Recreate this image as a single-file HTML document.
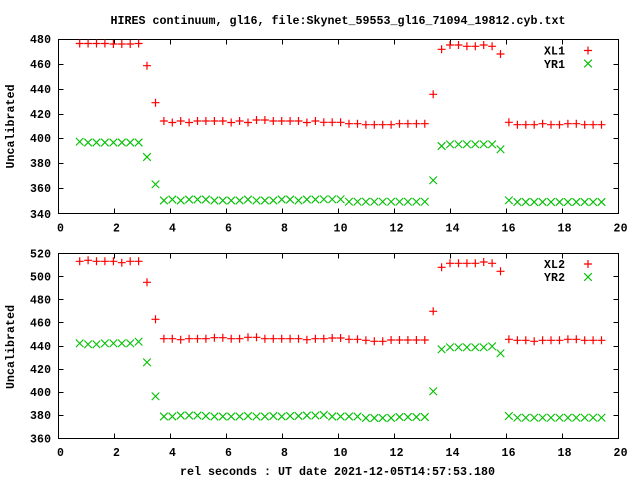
<!DOCTYPE html>
<html><head><meta charset="utf-8"><style>
html,body{margin:0;padding:0;background:#fff;}
svg{display:block;}
text{font-family:"Liberation Mono","DejaVu Sans Mono",monospace;font-weight:bold;font-size:11.5px;fill:#000;}
</style></head><body>
<svg width="640" height="480" viewBox="0 0 640 480" xmlns="http://www.w3.org/2000/svg">
<defs>
<path id="p" d="M-4,0h8M0,-4v8" stroke="#ff0000" stroke-width="1.2" fill="none"/>
<path id="x" d="M-3.8,-3.8L3.8,3.8M-3.8,3.8L3.8,-3.8" stroke="#00c000" stroke-width="1.1" fill="none"/>
</defs>
<rect width="640" height="480" fill="#fff"/>
<text x="338" y="24" text-anchor="middle" textLength="455" lengthAdjust="spacingAndGlyphs">HIRES continuum, gl16, file:Skynet_59553_gl16_71094_19812.cyb.txt</text>

<!-- Plot 1 frame -->
<g stroke="#000" stroke-width="1" fill="none" shape-rendering="crispEdges">
<rect x="58.5" y="39.5" width="560" height="174"/>
<path d="M114.5,213.5v-5M170.5,213.5v-5M226.5,213.5v-5M282.5,213.5v-5M338.5,213.5v-5M394.5,213.5v-5M450.5,213.5v-5M506.5,213.5v-5M562.5,213.5v-5
M114.5,39.5v5M170.5,39.5v5M226.5,39.5v5M282.5,39.5v5M338.5,39.5v5M394.5,39.5v5M450.5,39.5v5M506.5,39.5v5M562.5,39.5v5
M58.5,64.5h5M58.5,89.5h5M58.5,114.5h5M58.5,138.5h5M58.5,163.5h5M58.5,188.5h5
M618.5,64.5h-5M618.5,89.5h-5M618.5,114.5h-5M618.5,138.5h-5M618.5,163.5h-5M618.5,188.5h-5"/>
<rect x="58.5" y="253.5" width="560" height="185"/>
<path d="M114.5,438.5v-5M170.5,438.5v-5M226.5,438.5v-5M282.5,438.5v-5M338.5,438.5v-5M394.5,438.5v-5M450.5,438.5v-5M506.5,438.5v-5M562.5,438.5v-5
M114.5,253.5v5M170.5,253.5v5M226.5,253.5v5M282.5,253.5v5M338.5,253.5v5M394.5,253.5v5M450.5,253.5v5M506.5,253.5v5M562.5,253.5v5
M58.5,276.5h5M58.5,299.5h5M58.5,322.5h5M58.5,346.5h5M58.5,369.5h5M58.5,392.5h5M58.5,415.5h5
M618.5,276.5h-5M618.5,299.5h-5M618.5,322.5h-5M618.5,346.5h-5M618.5,369.5h-5M618.5,392.5h-5M618.5,415.5h-5"/>
</g>

<!-- Plot 1 y labels -->
<g text-anchor="end">
<text x="51" y="43" textLength="21">480</text>
<text x="51" y="68" textLength="21">460</text>
<text x="51" y="93" textLength="21">440</text>
<text x="51" y="118" textLength="21">420</text>
<text x="51" y="142" textLength="21">400</text>
<text x="51" y="167" textLength="21">380</text>
<text x="51" y="192" textLength="21">360</text>
<text x="51" y="218" textLength="21">340</text>
</g>
<!-- Plot 1 x labels -->
<g text-anchor="middle">
<text x="60.5" y="231.5">0</text>
<text x="116.5" y="231.5">2</text>
<text x="172.5" y="231.5">4</text>
<text x="228.5" y="231.5">6</text>
<text x="284.5" y="231.5">8</text>
<text x="340.5" y="231.5" textLength="14">10</text>
<text x="396.5" y="231.5" textLength="14">12</text>
<text x="452.5" y="231.5" textLength="14">14</text>
<text x="508.5" y="231.5" textLength="14">16</text>
<text x="564.5" y="231.5" textLength="14">18</text>
<text x="620.5" y="231.5" textLength="14">20</text>
</g>
<text transform="translate(14,126.5) rotate(-90)" text-anchor="middle" textLength="84">Uncalibrated</text>

<!-- Plot 2 y labels -->
<g text-anchor="end">
<text x="51" y="257.5" textLength="21">520</text>
<text x="51" y="280.5" textLength="21">500</text>
<text x="51" y="303.5" textLength="21">480</text>
<text x="51" y="326.5" textLength="21">460</text>
<text x="51" y="350" textLength="21">440</text>
<text x="51" y="373" textLength="21">420</text>
<text x="51" y="396" textLength="21">400</text>
<text x="51" y="419" textLength="21">380</text>
<text x="51" y="442.5" textLength="21">360</text>
</g>
<g text-anchor="middle">
<text x="60.5" y="456">0</text>
<text x="116.5" y="456">2</text>
<text x="172.5" y="456">4</text>
<text x="228.5" y="456">6</text>
<text x="284.5" y="456">8</text>
<text x="340.5" y="456" textLength="14">10</text>
<text x="396.5" y="456" textLength="14">12</text>
<text x="452.5" y="456" textLength="14">14</text>
<text x="508.5" y="456" textLength="14">16</text>
<text x="564.5" y="456" textLength="14">18</text>
<text x="620.5" y="456" textLength="14">20</text>
</g>
<text transform="translate(14,347) rotate(-90)" text-anchor="middle" textLength="84">Uncalibrated</text>
<text x="337.5" y="475" text-anchor="middle" textLength="315" lengthAdjust="spacingAndGlyphs">rel seconds : UT date 2021-12-05T14:57:53.180</text>

<!-- Legends -->
<text x="565" y="54.5" text-anchor="end" textLength="21">XL1</text>
<text x="565" y="68" text-anchor="end" textLength="21">YR1</text>
<use href="#p" x="588" y="50.5"/>
<use href="#x" x="588" y="63.5"/>
<text x="565" y="268" text-anchor="end" textLength="21">XL2</text>
<text x="565" y="281" text-anchor="end" textLength="21">YR2</text>
<use href="#p" x="588" y="264"/>
<use href="#x" x="588" y="277"/>

<!-- XL1 -->
<g>
<use href="#p" x="79.7" y="43.5"/><use href="#p" x="88.1" y="43.5"/><use href="#p" x="96.5" y="43.5"/><use href="#p" x="104.9" y="43.5"/>
<use href="#p" x="113.4" y="44"/><use href="#p" x="121.8" y="44"/><use href="#p" x="130.2" y="44"/><use href="#p" x="138.6" y="43.5"/>
<use href="#p" x="147.0" y="65.7"/><use href="#p" x="155.5" y="102.7"/>
<use href="#p" x="163.9" y="121"/><use href="#p" x="172.3" y="122.5"/><use href="#p" x="180.7" y="121"/><use href="#p" x="189.1" y="122.5"/>
<use href="#p" x="197.5" y="121"/><use href="#p" x="205.9" y="121"/><use href="#p" x="214.4" y="121"/><use href="#p" x="222.8" y="121"/>
<use href="#p" x="231.2" y="122.5"/><use href="#p" x="239.6" y="121"/><use href="#p" x="248.0" y="122.5"/><use href="#p" x="256.5" y="120"/>
<use href="#p" x="264.9" y="120"/><use href="#p" x="273.3" y="121"/><use href="#p" x="281.7" y="121"/><use href="#p" x="290.1" y="121"/>
<use href="#p" x="298.5" y="121"/><use href="#p" x="306.9" y="122.5"/><use href="#p" x="315.4" y="121"/>
<use href="#p" x="323.8" y="122.3"/><use href="#p" x="332.2" y="122.3"/><use href="#p" x="340.6" y="122.3"/>
<use href="#p" x="349.0" y="123.7"/><use href="#p" x="357.5" y="123.7"/>
<use href="#p" x="365.9" y="124.7"/><use href="#p" x="374.3" y="124.7"/><use href="#p" x="382.7" y="124.7"/><use href="#p" x="391.1" y="124.7"/>
<use href="#p" x="399.5" y="123.7"/><use href="#p" x="407.9" y="123.7"/><use href="#p" x="416.4" y="123.7"/><use href="#p" x="424.8" y="123.7"/>
<use href="#p" x="433.2" y="94.3"/><use href="#p" x="441.6" y="49.3"/><use href="#p" x="450.0" y="45"/><use href="#p" x="458.5" y="45"/>
<use href="#p" x="466.9" y="46.3"/><use href="#p" x="475.3" y="46.3"/><use href="#p" x="483.7" y="45"/><use href="#p" x="492.1" y="46.3"/>
<use href="#p" x="500.5" y="54"/><use href="#p" x="508.9" y="122.3"/>
<use href="#p" x="517.4" y="124.7"/><use href="#p" x="525.8" y="124.7"/><use href="#p" x="534.2" y="124.7"/><use href="#p" x="542.6" y="123.7"/>
<use href="#p" x="551.0" y="124.7"/><use href="#p" x="559.5" y="124.7"/><use href="#p" x="567.9" y="123.7"/><use href="#p" x="576.3" y="123.7"/>
<use href="#p" x="584.7" y="124.7"/><use href="#p" x="593.1" y="124.7"/><use href="#p" x="601.5" y="124.7"/>
</g>
<!-- YR1 -->
<g>
<use href="#x" x="79.7" y="141.7"/><use href="#x" x="88.1" y="142.5"/><use href="#x" x="96.5" y="142.5"/><use href="#x" x="104.9" y="142.5"/>
<use href="#x" x="113.4" y="142.5"/><use href="#x" x="121.8" y="142.5"/><use href="#x" x="130.2" y="142.5"/><use href="#x" x="138.6" y="142.5"/>
<use href="#x" x="147.0" y="157"/><use href="#x" x="155.5" y="184.3"/>
<use href="#x" x="163.9" y="200.5"/><use href="#x" x="172.3" y="199.5"/><use href="#x" x="180.7" y="200.5"/><use href="#x" x="189.1" y="199.5"/>
<use href="#x" x="197.5" y="199.5"/><use href="#x" x="205.9" y="199.5"/><use href="#x" x="214.4" y="200.5"/><use href="#x" x="222.8" y="200.5"/>
<use href="#x" x="231.2" y="200.5"/><use href="#x" x="239.6" y="200.5"/><use href="#x" x="248.0" y="199.5"/><use href="#x" x="256.5" y="200.5"/>
<use href="#x" x="264.9" y="200.5"/><use href="#x" x="273.3" y="200.5"/><use href="#x" x="281.7" y="199.5"/><use href="#x" x="290.1" y="199.5"/>
<use href="#x" x="298.5" y="200.5"/><use href="#x" x="306.9" y="199.5"/><use href="#x" x="315.4" y="199.5"/>
<use href="#x" x="323.8" y="199.3"/><use href="#x" x="332.2" y="199.3"/><use href="#x" x="340.6" y="199.3"/>
<use href="#x" x="349.0" y="201.7"/><use href="#x" x="357.5" y="201.7"/><use href="#x" x="365.9" y="201.7"/><use href="#x" x="374.3" y="201.7"/>
<use href="#x" x="382.7" y="201.7"/><use href="#x" x="391.1" y="201.7"/><use href="#x" x="399.5" y="201.7"/><use href="#x" x="407.9" y="201.7"/>
<use href="#x" x="416.4" y="201.7"/><use href="#x" x="424.8" y="201.7"/>
<use href="#x" x="433.2" y="180.3"/><use href="#x" x="441.6" y="146"/><use href="#x" x="450.0" y="144.3"/><use href="#x" x="458.5" y="144.3"/>
<use href="#x" x="466.9" y="144.3"/><use href="#x" x="475.3" y="144.3"/><use href="#x" x="483.7" y="144.3"/><use href="#x" x="492.1" y="144.3"/>
<use href="#x" x="500.5" y="149.3"/><use href="#x" x="508.9" y="200.3"/>
<use href="#x" x="517.4" y="202"/><use href="#x" x="525.8" y="202"/><use href="#x" x="534.2" y="202"/><use href="#x" x="542.6" y="202"/>
<use href="#x" x="551.0" y="202"/><use href="#x" x="559.5" y="202"/><use href="#x" x="567.9" y="202"/><use href="#x" x="576.3" y="202"/>
<use href="#x" x="584.7" y="202"/><use href="#x" x="593.1" y="202"/><use href="#x" x="601.5" y="202"/>
</g>

<!-- XL2 -->
<g>
<use href="#p" x="79.7" y="261.3"/><use href="#p" x="88.1" y="260.3"/><use href="#p" x="96.5" y="261.3"/><use href="#p" x="104.9" y="261.3"/>
<use href="#p" x="113.4" y="261.3"/><use href="#p" x="121.8" y="262.7"/><use href="#p" x="130.2" y="261.3"/><use href="#p" x="138.6" y="261.3"/>
<use href="#p" x="147.0" y="282.3"/><use href="#p" x="155.5" y="319.3"/>
<use href="#p" x="163.9" y="338.7"/><use href="#p" x="172.3" y="338.7"/><use href="#p" x="180.7" y="339.7"/><use href="#p" x="189.1" y="338.7"/>
<use href="#p" x="197.5" y="338.7"/><use href="#p" x="205.9" y="338.7"/><use href="#p" x="214.4" y="337.7"/><use href="#p" x="222.8" y="337.7"/>
<use href="#p" x="231.2" y="338.7"/><use href="#p" x="239.6" y="338.7"/><use href="#p" x="248.0" y="337.3"/><use href="#p" x="256.5" y="337.3"/>
<use href="#p" x="264.9" y="338.7"/><use href="#p" x="273.3" y="338.7"/><use href="#p" x="281.7" y="338.7"/><use href="#p" x="290.1" y="338.7"/>
<use href="#p" x="298.5" y="338.7"/><use href="#p" x="306.9" y="339.7"/><use href="#p" x="315.4" y="338.7"/>
<use href="#p" x="323.8" y="338.7"/><use href="#p" x="332.2" y="338"/><use href="#p" x="340.6" y="338"/>
<use href="#p" x="349.0" y="339.3"/><use href="#p" x="357.5" y="339.3"/><use href="#p" x="365.9" y="340.3"/><use href="#p" x="374.3" y="341.3"/>
<use href="#p" x="382.7" y="341.3"/><use href="#p" x="391.1" y="340"/><use href="#p" x="399.5" y="340"/><use href="#p" x="407.9" y="340"/>
<use href="#p" x="416.4" y="340"/><use href="#p" x="424.8" y="340"/>
<use href="#p" x="433.2" y="311.3"/><use href="#p" x="441.6" y="267.3"/><use href="#p" x="450.0" y="263.3"/><use href="#p" x="458.5" y="263.3"/>
<use href="#p" x="466.9" y="263.3"/><use href="#p" x="475.3" y="263.3"/><use href="#p" x="483.7" y="262"/><use href="#p" x="492.1" y="263.3"/>
<use href="#p" x="500.5" y="271.3"/><use href="#p" x="508.9" y="339.3"/>
<use href="#p" x="517.4" y="340.3"/><use href="#p" x="525.8" y="340.3"/><use href="#p" x="534.2" y="341.3"/><use href="#p" x="542.6" y="340.3"/>
<use href="#p" x="551.0" y="340.3"/><use href="#p" x="559.5" y="340.3"/><use href="#p" x="567.9" y="339.3"/><use href="#p" x="576.3" y="339.3"/>
<use href="#p" x="584.7" y="340.3"/><use href="#p" x="593.1" y="340.3"/><use href="#p" x="601.5" y="340.3"/>
</g>
<!-- YR2 -->
<g>
<use href="#x" x="79.7" y="343.3"/><use href="#x" x="88.1" y="344.3"/><use href="#x" x="96.5" y="344.3"/><use href="#x" x="104.9" y="343.3"/>
<use href="#x" x="113.4" y="343.3"/><use href="#x" x="121.8" y="343.3"/><use href="#x" x="130.2" y="343.3"/><use href="#x" x="138.6" y="341.7"/>
<use href="#x" x="147.0" y="362.3"/><use href="#x" x="155.5" y="396.3"/>
<use href="#x" x="163.9" y="416.5"/><use href="#x" x="172.3" y="416.5"/><use href="#x" x="180.7" y="415.5"/><use href="#x" x="189.1" y="415.5"/>
<use href="#x" x="197.5" y="415.5"/><use href="#x" x="205.9" y="416"/><use href="#x" x="214.4" y="416.5"/><use href="#x" x="222.8" y="416.5"/>
<use href="#x" x="231.2" y="416.5"/><use href="#x" x="239.6" y="416.5"/><use href="#x" x="248.0" y="416"/><use href="#x" x="256.5" y="416.5"/>
<use href="#x" x="264.9" y="416.5"/><use href="#x" x="273.3" y="416"/><use href="#x" x="281.7" y="416.5"/><use href="#x" x="290.1" y="416"/>
<use href="#x" x="298.5" y="416"/><use href="#x" x="306.9" y="415.5"/><use href="#x" x="315.4" y="415.5"/>
<use href="#x" x="323.8" y="415"/><use href="#x" x="332.2" y="416.5"/><use href="#x" x="340.6" y="416.5"/>
<use href="#x" x="349.0" y="416.5"/><use href="#x" x="357.5" y="416.5"/><use href="#x" x="365.9" y="418"/><use href="#x" x="374.3" y="418"/>
<use href="#x" x="382.7" y="418"/><use href="#x" x="391.1" y="418"/><use href="#x" x="399.5" y="417"/><use href="#x" x="407.9" y="417"/>
<use href="#x" x="416.4" y="417"/><use href="#x" x="424.8" y="417"/>
<use href="#x" x="433.2" y="391.3"/><use href="#x" x="441.6" y="349.3"/><use href="#x" x="450.0" y="347.3"/><use href="#x" x="458.5" y="347.3"/>
<use href="#x" x="466.9" y="347.3"/><use href="#x" x="475.3" y="347.3"/><use href="#x" x="483.7" y="347.3"/><use href="#x" x="492.1" y="346.3"/>
<use href="#x" x="500.5" y="353.3"/><use href="#x" x="508.9" y="416"/>
<use href="#x" x="517.4" y="417.7"/><use href="#x" x="525.8" y="417.7"/><use href="#x" x="534.2" y="417.7"/><use href="#x" x="542.6" y="417.7"/>
<use href="#x" x="551.0" y="417.7"/><use href="#x" x="559.5" y="417.7"/><use href="#x" x="567.9" y="417.7"/><use href="#x" x="576.3" y="417.7"/>
<use href="#x" x="584.7" y="417.7"/><use href="#x" x="593.1" y="417.7"/><use href="#x" x="601.5" y="417.7"/>
</g>
</svg>
</body></html>
